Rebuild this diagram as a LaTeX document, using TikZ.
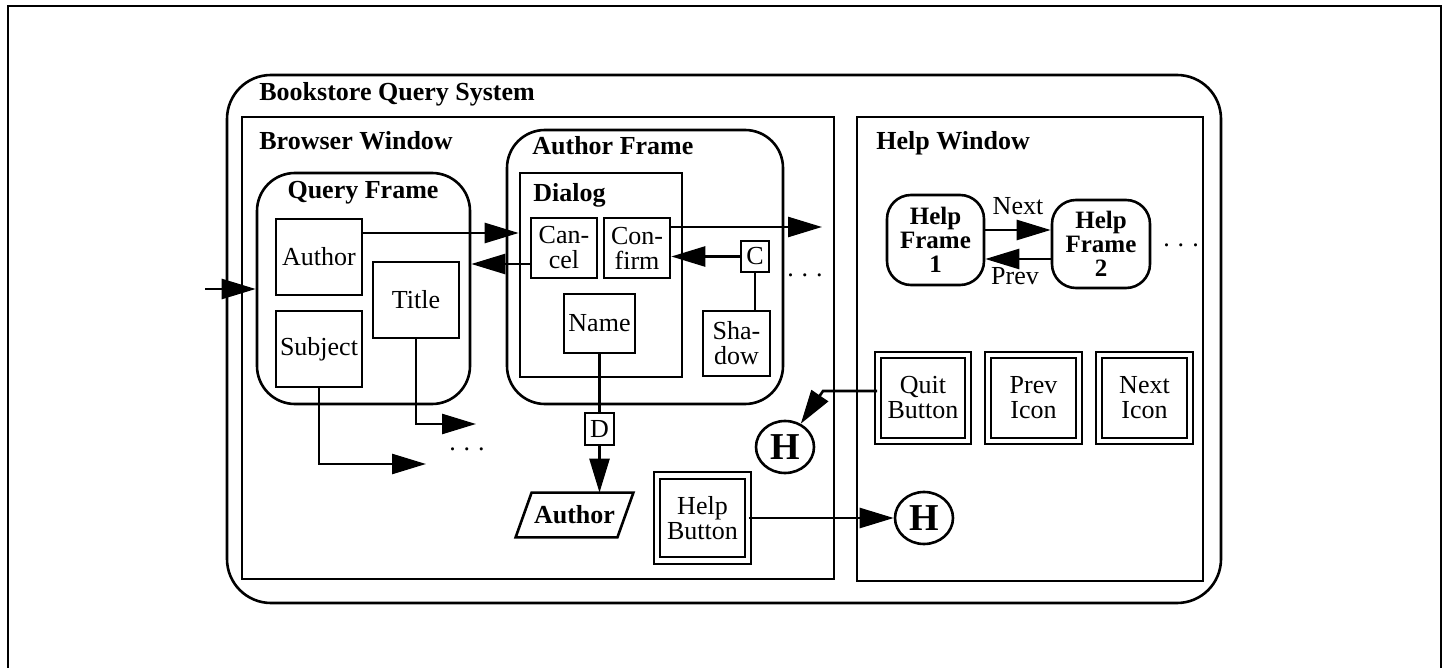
\documentclass[tikz,border=0pt]{standalone}
\usepackage{fontspec}
\setmainfont{Liberation Serif}
\usetikzlibrary{arrows.meta,fit,calc,shapes.geometric}
\begin{document}
\begin{tikzpicture}[x=0.5pt,y=-0.5pt,
  every node/.style={font=\fontsize{13}{12.5}\selectfont, inner sep=0pt},
  rect/.style n args={4}{minimum width={(#3-#1)*0.5pt}, minimum height={(#4-#2)*0.5pt}, at={({(#1+#3)/2},{(#2+#4)/2})}},
  sbox/.style={draw, line width=1.3pt, align=center},
  rbox/.style={draw, line width=1.3pt, rounded corners=#1, align=center},
  dbl/.style={draw, line width=0.9pt, double=white, double distance=2.4pt, align=center},
  hdr/.style={font=\fontsize{13}{12.5}\selectfont\bfseries, anchor=base west},
  arr/.style={line width=1.3pt, -{Triangle[length=17pt,width=10pt]}},
  ln/.style={line width=1.3pt},
  hcirc/.style={draw, ellipse, line width=1.3pt, minimum width=29pt, minimum height=26pt, font=\fontsize{19}{19}\selectfont\bfseries},
  hfr/.style={draw, line width=1.3pt, rounded corners=12pt, align=center, font=\fontsize{12.5}{12}\selectfont\bfseries}
]
\useasboundingbox (0,0) rectangle (1446,668);
\draw[line width=1pt] (8,668) -- (8,6) -- (1441,6) -- (1441,668);

% containers
\node[rbox=22pt, fit={(227,75) (1221,603)}] (sys) {};
\node[hdr] (syslbl) at (259,101) {Bookstore Query System};
\node[sbox, fit={(242,117) (834,579)}] (bw) {};
\node[hdr] (bwlbl) at (259,150) {Browser Window};
\node[sbox, fit={(857,117) (1203,581)}] (hw) {};
\node[hdr] (hwlbl) at (876,150) {Help Window};

% query frame
\node[rbox=19pt, fit={(257,173) (470,404)}] (qf) {};
\node[hdr, anchor=base] (qflbl) at (363,199) {Query Frame};
\node[sbox, rect={276}{219}{362}{295}] (qauthor) {Author};
\node[sbox, rect={373}{262}{459}{338}] (qtitle) {Title};
\node[sbox, rect={276}{311}{362}{387}] (qsubject) {Subject};

% author frame
\node[rbox=19pt, fit={(507,130) (783,404)}] (af) {};
\node[hdr] (aflbl) at (532,155) {Author Frame};
\node[sbox, fit={(520,173) (682,377)}] (dlg) {};
\node[hdr] (dlglbl) at (533,202) {Dialog};
\node[sbox, rect={531}{218}{597}{278}] (cancel) {Can-\\cel};
\node[sbox, rect={604}{218}{670}{278}] (confirm) {Con-\\firm};
\node[sbox, rect={564}{294}{635}{353}] (name) {Name};
\node[sbox, rect={741}{241}{769}{272}] (cb) {C};
\node[sbox, rect={703}{311}{770}{376}] (shadow) {Sha-\\dow};
\node (afdots) at (805,275) {.\hspace{4pt}.\hspace{4pt}.};

\node[sbox, rect={585}{413}{614}{445}] (db) {D};
\node[minimum width=58.5pt, minimum height=22pt, font=\fontsize{13}{12.5}\selectfont\bfseries] (authp) at (574.5,515) {Author};
\draw[ln] (authp.south west) -- ($(authp.north west)+(16,0)$) -- (authp.north east) -- ($(authp.south east)+(-16,0)$) -- cycle;

\node[dbl, rect={657}{475.5}{748}{560.5}] (hbtn) {Help\\Button};
\node[hcirc] (h1) at (785,447) {H};
\node[hcirc] (h2) at (924,518) {H};
\node (qdots) at (467,449) {.\hspace{4pt}.\hspace{4pt}.};

% help window
\node[hfr, rect={887}{195}{984}{285}] (hf1) {Help\\Frame\\1};
\node[hfr, rect={1052}{200}{1150}{288}] (hf2) {Help\\Frame\\2};
\node (hdots) at (1181,245) {.\hspace{4pt}.\hspace{4pt}.};
\node (nextlbl) at (1018,206) {Next};
\node (prevlbl) at (1015,276) {Prev};
\node[dbl, rect={878}{355}{968}{441}] (quit) {Quit\\Button};
\node[dbl, rect={988}{355}{1079}{441}] (previcon) {Prev\\Icon};
\node[dbl, rect={1099}{355}{1190}{441}] (nexticon) {Next\\Icon};

% helper coordinates
\coordinate (in) at (205,289);
\coordinate (y233) at (0,233);
\coordinate (y264) at (0,264);
\coordinate (cout) at (822,227);
\coordinate (tend) at (476,424);
\coordinate (send) at (426,464);
\coordinate (qbend) at (823,391);
\coordinate (ynext) at (0,230);
\coordinate (yprev) at (0,259);

% connectors
\draw[arr] (in) -- (in -| qf.west);
\draw[arr] (qauthor.east |- y233) -- (dlg.west |- y233);
\draw[arr] (cancel.west |- y264) -- (qf.east |- y264);
\draw[arr] (confirm.east |- cout) -- (cout);
\draw[arr] (cb.west) -- (cb.west -| confirm.east);
\draw[ln] (cb.south) -- (cb.south |- shadow.north);
\draw[ln] (name.south) -- (db.north);
\draw[arr] (db.south) -- (db.south |- authp.north);
\draw[arr] (qtitle.south) |- (tend);
\draw[arr] (qsubject.south) |- (send);
\draw[arr] (hbtn.east) -- (h2.west);
\draw[arr] (quit.west |- qbend) -- (qbend) -- (h1);
\draw[arr] (hf1.east |- ynext) -- (hf2.west |- ynext);
\draw[arr] (hf2.west |- yprev) -- (hf1.east |- yprev);
\end{tikzpicture}
\end{document}
